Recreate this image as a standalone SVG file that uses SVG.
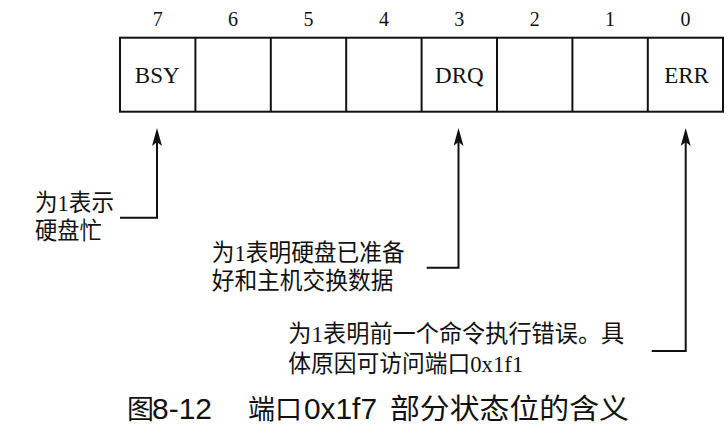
<svg xmlns="http://www.w3.org/2000/svg" width="728" height="429" viewBox="0 0 728 429">
<style>
.box{fill:#fff;stroke:#111;stroke-width:2}
.div{stroke:#111;stroke-width:2}
.num{font-family:"Liberation Serif","Noto Sans CJK SC",serif;font-size:20px;fill:#111;text-anchor:middle}
.lbl{font-family:"Liberation Serif","Noto Sans CJK SC",serif;font-size:23px;fill:#111;text-anchor:middle}
.ann{font-family:"Liberation Serif","Noto Sans CJK SC",serif;font-size:23.5px;fill:#111}
.cap{font-family:"Liberation Sans","Noto Sans CJK SC",sans-serif;fill:#111}
.conn{fill:none;stroke:#111;stroke-width:2}
</style>
<defs>
<marker id="arr" markerUnits="userSpaceOnUse" markerWidth="18" markerHeight="10" viewBox="0 0 18 10" refX="10" refY="5" orient="auto">
<path d="M0,0 L18,5 L0,10 L4,5 z" fill="#111"/>
</marker>
</defs>
<rect width="728" height="429" fill="#fff"/>
<g id="register">
<rect class="box" x="120" y="37.7" width="603" height="74"/>
<line class="div" x1="195.4" y1="37.7" x2="195.4" y2="111.7"/>
<line class="div" x1="270.8" y1="37.7" x2="270.8" y2="111.7"/>
<line class="div" x1="346.2" y1="37.7" x2="346.2" y2="111.7"/>
<line class="div" x1="421.6" y1="37.7" x2="421.6" y2="111.7"/>
<line class="div" x1="497" y1="37.7" x2="497" y2="111.7"/>
<line class="div" x1="572.4" y1="37.7" x2="572.4" y2="111.7"/>
<line class="div" x1="647.8" y1="37.7" x2="647.8" y2="111.7"/>
<text class="num" x="157.7" y="26">7</text>
<text class="num" x="233.1" y="26">6</text>
<text class="num" x="308.5" y="26">5</text>
<text class="num" x="383.9" y="26">4</text>
<text class="num" x="459.3" y="26">3</text>
<text class="num" x="534.7" y="26">2</text>
<text class="num" x="610.1" y="26">1</text>
<text class="num" x="685.5" y="26">0</text>
<text class="lbl" x="157.2" y="83.3">BSY</text>
<text class="lbl" x="459.3" y="83.3">DRQ</text>
<text class="lbl" x="686.5" y="83.3">ERR</text>
</g>
<g id="connectors">
<path class="conn" d="M120,217.7 H157 V136" marker-end="url(#arr)"/>
<path class="conn" d="M426.7,267.7 H458.5 V136" marker-end="url(#arr)"/>
<path class="conn" d="M651.7,351 H685.7 V136" marker-end="url(#arr)"/>
</g>
<g id="note-bsy">
<text class="ann" x="35" y="210.5" textLength="79" lengthAdjust="spacingAndGlyphs">为1表示</text>
<text class="ann" x="35" y="239" textLength="66.7" lengthAdjust="spacingAndGlyphs">硬盘忙</text>
</g>
<g id="note-drq">
<text class="ann" x="211.7" y="260.5" textLength="193" lengthAdjust="spacingAndGlyphs">为1表明硬盘已准备</text>
<text class="ann" x="211.7" y="289" textLength="181.7" lengthAdjust="spacingAndGlyphs">好和主机交换数据</text>
</g>
<g id="note-err">
<text class="ann" x="288.3" y="342" textLength="336" lengthAdjust="spacingAndGlyphs">为1表明前一个命令执行错误。具</text>
<text class="ann" x="288.3" y="372" textLength="235" lengthAdjust="spacingAndGlyphs">体原因可访问端口0x1f1</text>
</g>
<g id="caption">
<text class="cap" x="127" y="419" font-size="27">图</text>
<text class="cap" x="152" y="419" font-size="29" textLength="60" lengthAdjust="spacingAndGlyphs">8-12</text>
<text class="cap" x="248" y="419" font-size="27" textLength="54" lengthAdjust="spacingAndGlyphs">端口</text>
<text class="cap" x="304" y="419" font-size="29" textLength="73" lengthAdjust="spacingAndGlyphs">0x1f7</text>
<text class="cap" x="390" y="419" font-size="28" textLength="239" lengthAdjust="spacingAndGlyphs">部分状态位的含义</text>
</g>
</svg>
